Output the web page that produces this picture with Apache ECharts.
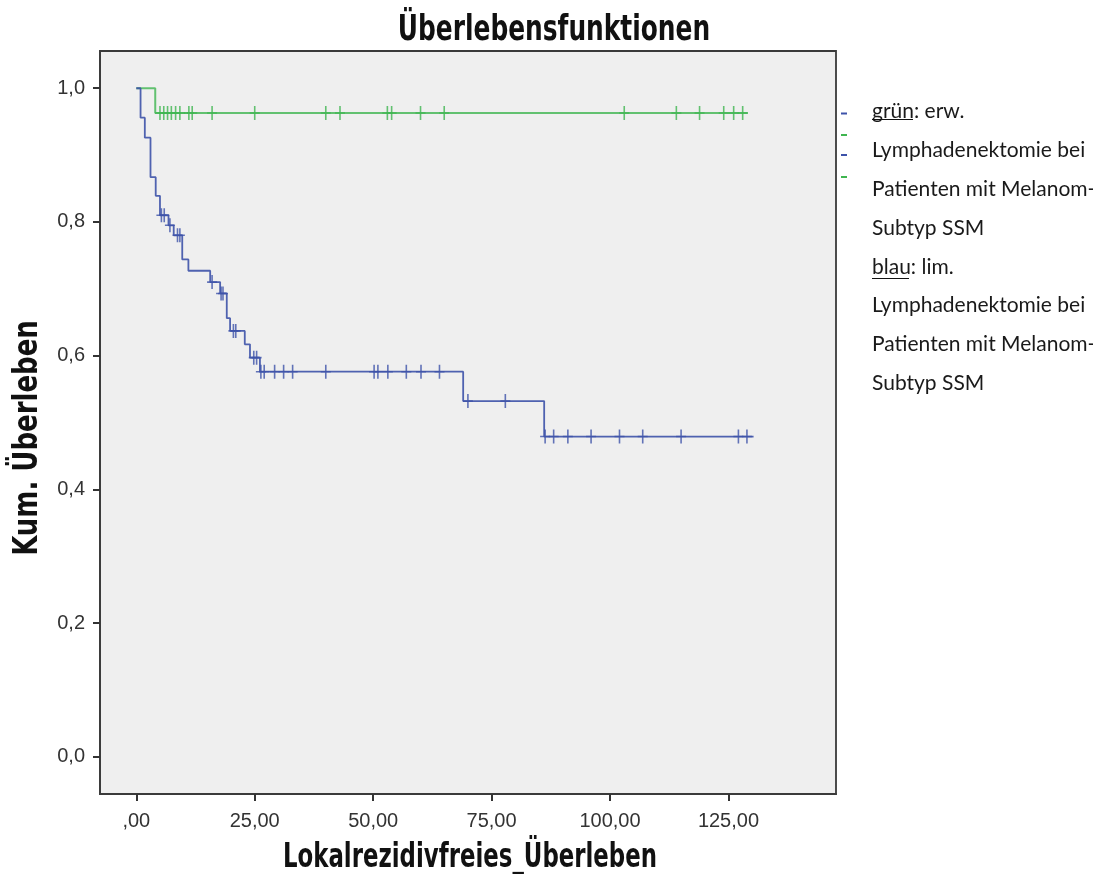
<!DOCTYPE html>
<html>
<head>
<meta charset="utf-8">
<script src="https://cdn.jsdelivr.net/npm/echarts@6/dist/echarts.min.js"></script>
<style>
html,body{margin:0;padding:0;background:#fff;}
#chart{width:1093px;height:874px;}
</style>
</head>
<body>
<div id="chart"></div>
<script>
// ---- data ----
const titleText = 'Überlebensfunktionen';
const xAxisTitle = 'Lokalrezidivfreies_Überleben';
const yAxisTitle = 'Kum. Überleben';
const xTickValues = [0, 25, 50, 75, 100, 125];
const xTickLabels = [',00', '25,00', '50,00', '75,00', '100,00', '125,00'];
const yTickValues = [0, 0.2, 0.4, 0.6, 0.8, 1.0];
const yTickLabels = ['0,0', '0,2', '0,4', '0,6', '0,8', '1,0'];

// blue: lim. Lymphadenektomie (event times and survival after each step)
const blueTimes = [0, 0.9, 1.8, 3.0, 4.1, 5.0, 6.8, 7.9, 9.7, 11.0, 15.6, 17.7, 19.1, 19.8, 22.9, 24.0, 26.1, 69.0, 86.1, 130.3];
const blueSurv  = [1, 0.956, 0.926, 0.867, 0.839, 0.810, 0.795, 0.780, 0.744, 0.727, 0.710, 0.693, 0.656, 0.637, 0.617, 0.597, 0.576, 0.532, 0.479, 0.479];
const blueCensored = [5.3, 5.9, 7.1, 8.7, 9.2, 16.0, 17.9, 18.3, 20.5, 21.0, 24.8, 25.4, 26.3, 27.0, 29.2, 31.1, 33.0, 40.0, 50.2, 51.0, 53.1, 57.0, 60.1, 64.0, 70.0, 77.9, 86.3, 88.1, 91.1, 96.0, 102.0, 106.9, 115.0, 127.1, 128.9];

// green: erw. Lymphadenektomie
const greenTimes = [0, 4.0, 129.1];
const greenSurv  = [1, 0.963, 0.963];
const greenCensored = [5.0, 5.8, 6.6, 7.4, 8.3, 9.2, 11.1, 11.8, 16.0, 25.0, 40.0, 43.0, 53.0, 53.9, 60.0, 65.0, 103.0, 114.0, 118.9, 124.0, 126.1, 128.0];

const legendLines = ['grün: erw.', 'Lymphadenektomie bei', 'Patienten mit Melanom-', 'Subtyp SSM', 'blau: lim.', 'Lymphadenektomie bei', 'Patienten mit Melanom-', 'Subtyp SSM'];

// ---- build ----
const BLUE = '#3d52a9', GREEN = '#3fb550';
const boldFont = '"Liberation Sans Narrow", "DejaVu Sans Condensed", sans-serif';
function levelAt(times, surv, t) {
  let s = surv[0];
  for (let i = 0; i < times.length; i++) { if (times[i] <= t) s = surv[i]; }
  return s;
}
const curve = (times, surv) => times.map((t, i) => [t, surv[i]]);
const censorPts = (ct, times, surv) => ct.map(t => [t, levelAt(times, surv, t)]);
const crossPath = 'path://M4.2,0H5.8V6.2H10V7.8H5.8V14H4.2V7.8H0V6.2H4.2Z';

const chart = echarts.init(document.getElementById('chart'));
const legendGraphics = legendLines.map((txt, i) => ({
  type: 'text', x: 872, y: 111.7 + i * 38.8,
  style: { text: txt, fill: '#1a1a1a', font: '21px Lato, "Noto Sans", sans-serif', textVerticalAlign: 'middle' }
}));
const axisLineStyle = { show: true, onZero: false, lineStyle: { color: '#3a3a3a', width: 1.8 } };
const option = {
  animation: false,
  backgroundColor: '#fff',
  grid: { left: 100, right: 257, top: 51, bottom: 80, show: true, backgroundColor: '#efefef', borderColor: '#3a3a3a', borderWidth: 1.8 },
  xAxis: {
    type: 'value', min: -7.66, max: 147.7,
    axisLine: axisLineStyle, splitLine: { show: false },
    axisTick: { show: true, inside: false, length: 7, lineStyle: { color: '#333', width: 2 }, customValues: xTickValues },
    axisLabel: { customValues: xTickValues, color: '#333', fontSize: 20, fontFamily: '"Liberation Sans", sans-serif', margin: 17,
      formatter: v => xTickLabels[xTickValues.indexOf(v)] }
  },
  yAxis: {
    type: 'value', min: -0.0557, max: 1.0557,
    axisLine: axisLineStyle, splitLine: { show: false },
    axisTick: { show: true, inside: false, length: 7, lineStyle: { color: '#333', width: 2 }, customValues: yTickValues },
    axisLabel: { customValues: yTickValues, color: '#333', fontSize: 20, fontFamily: '"Liberation Sans", sans-serif', margin: 15,
      formatter: v => yTickLabels[yTickValues.findIndex(y => Math.abs(y - v) < 1e-6)] }
  },
  graphic: [
    { type: 'text', x: 554, y: 31, scaleX: 0.79, style: { text: titleText, font: 'bold 35px ' + boldFont, fill: '#111', textAlign: 'center', textVerticalAlign: 'middle' } },
    { type: 'text', x: 470, y: 858, scaleX: 0.77, style: { text: xAxisTitle, font: 'bold 33px ' + boldFont, fill: '#111', textAlign: 'center', textVerticalAlign: 'middle' } },
    { type: 'text', x: 28, y: 438, rotation: Math.PI / 2, scaleX: 0.85, style: { text: yAxisTitle, font: 'bold 34px ' + boldFont, fill: '#111', textAlign: 'center', textVerticalAlign: 'middle' } },
    ...legendGraphics,
    { type: 'line', shape: { x1: 872, y1: 119.5, x2: 913, y2: 119.5 }, style: { stroke: '#111', lineWidth: 1 } },
    { type: 'line', shape: { x1: 872, y1: 278.5, x2: 909, y2: 278.5 }, style: { stroke: '#111', lineWidth: 1 } },
    { type: 'line', shape: { x1: 841, y1: 113.5, x2: 847, y2: 113.5 }, style: { stroke: BLUE, lineWidth: 2 } },
    { type: 'line', shape: { x1: 841, y1: 135, x2: 847, y2: 135 }, style: { stroke: GREEN, lineWidth: 2 } },
    { type: 'line', shape: { x1: 841, y1: 155, x2: 847, y2: 155 }, style: { stroke: BLUE, lineWidth: 2 } },
    { type: 'line', shape: { x1: 841, y1: 177, x2: 847, y2: 177 }, style: { stroke: GREEN, lineWidth: 2 } }
  ],
  series: [
    { name: 'grün', type: 'line', step: 'end', data: curve(greenTimes, greenSurv), showSymbol: false, lineStyle: { color: GREEN, width: 2, opacity: 0.8 }, z: 3 },
    { name: 'blau', type: 'line', step: 'end', data: curve(blueTimes, blueSurv), showSymbol: false, lineStyle: { color: BLUE, width: 1.8, opacity: 0.9 }, z: 3 },
    { name: 'grün zensiert', type: 'scatter', data: censorPts(greenCensored, greenTimes, greenSurv), symbol: crossPath, symbolSize: [10, 14], itemStyle: { color: GREEN }, z: 4 },
    { name: 'blau zensiert', type: 'scatter', data: censorPts(blueCensored, blueTimes, blueSurv), symbol: crossPath, symbolSize: [10, 14], itemStyle: { color: BLUE }, z: 4 }
  ]
};
chart.setOption(option);
</script>
</body>
</html>
